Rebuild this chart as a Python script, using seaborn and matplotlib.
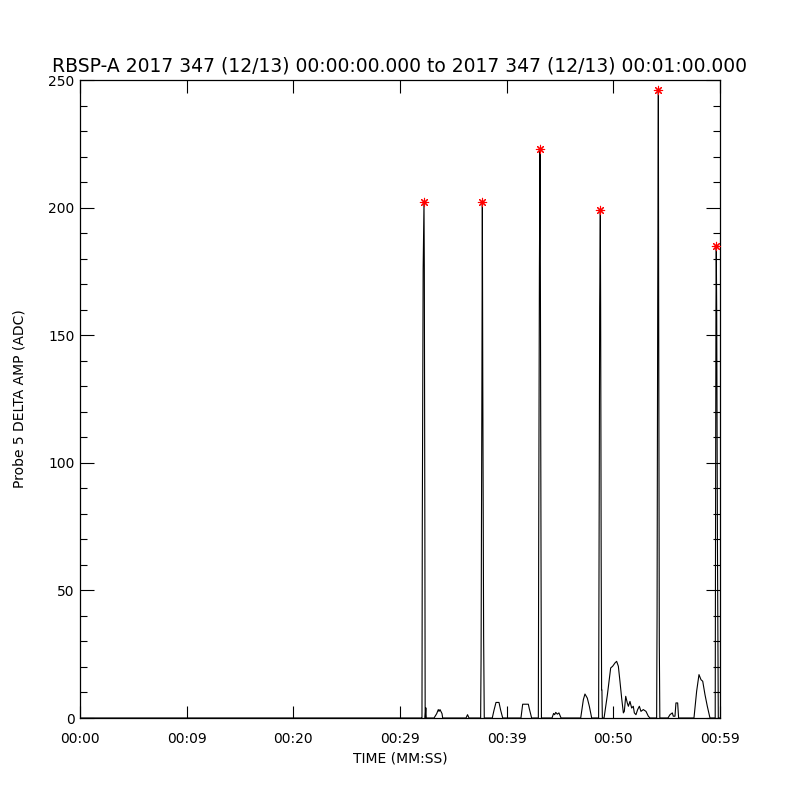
import matplotlib
matplotlib.use("Agg")
import matplotlib.pyplot as plt
from matplotlib.ticker import MultipleLocator
import seaborn as sns
import numpy as np
import pandas as pd

sns.set_style("white")
plt.rcParams['font.family'] = ['DejaVu Sans']
plt.rcParams.update({'text.color': 'black', 'axes.labelcolor': 'black',
                     'xtick.color': 'black', 'ytick.color': 'black'})

# ---- data (seconds after 00:00:00, ADC counts) ----
t_base = [0.0, 32.0]
v_base = [0, 0]

t_spike1 = [32.06, 32.09, 32.17, 32.25, 32.28, 32.33, 32.36, 32.42, 32.46]
v_spike1 = [0, 75, 176, 202, 176, 75, 0, 4, 0]

t_bump_a = [33.19, 33.44, 33.59, 33.66, 33.75, 33.94, 34.0, 36.19, 36.33, 36.47]
v_bump_a = [0, 1.7, 3.3, 2.6, 3.3, 1.7, 0, 0, 1.3, 0]

t_spike2 = [37.56, 37.60, 37.68, 37.72, 37.76, 37.84, 37.90]
v_spike2 = [0, 23, 133, 202, 133, 32, 0]

t_bump_b = [38.65, 38.81, 39.0, 39.28, 39.44, 39.63,
            41.34, 41.5, 42.03, 42.12, 42.34]
v_bump_b = [0, 3, 6.1, 6.1, 3, 0,
            0, 5.4, 5.4, 3.7, 0]

t_spike3 = [42.97, 43.0, 43.07, 43.125, 43.16, 43.22, 43.26]
v_spike3 = [0, 64, 176, 223, 176, 64, 0]

t_bump_d = [44.25, 44.4, 44.5, 44.6, 44.75, 44.9, 45.05, 45.1,
            46.94, 47.19, 47.34, 47.56, 47.75, 47.97]
v_bump_d = [0, 1.8, 1.3, 2.2, 1.5, 2.0, 0.5, 0,
            0, 7.2, 9.4, 7.8, 4.6, 0]

t_spike4 = [48.62, 48.66, 48.72, 48.78, 48.81, 48.86, 48.90, 48.93, 48.97]
v_spike4 = [0, 62, 161, 199, 161, 62, 11, 11, 0]

t_bump_f = [49.13, 49.44, 49.75, 49.94, 50.16, 50.31, 50.47, 50.62, 50.78,
            50.94, 51.03, 51.16, 51.31, 51.41, 51.56, 51.72, 51.87, 51.97,
            52.12, 52.28, 52.44, 52.59, 52.81, 53.06, 53.28, 53.44]
v_bump_f = [0, 9, 19.6, 20.3, 21.6, 22.2, 20.3, 14.4, 7.8,
            2, 2.6, 8.5, 5.9, 4.6, 6.5, 3.9, 4.6, 2,
            1.3, 3.3, 4.6, 2.6, 3.3, 2.6, 0.7, 0]

t_spike5 = [54.06, 54.10, 54.16, 54.22, 54.25, 54.31, 54.36]
v_spike5 = [0, 40, 163, 246, 163, 29, 0]

t_bump_g = [55.12, 55.31, 55.53, 55.62, 55.78, 55.87, 56.03, 56.12,
            57.56, 57.81, 58.03, 58.22, 58.38, 58.59, 58.81, 59.06]
v_bump_g = [0, 1.3, 2, 0.7, 0.7, 5.9, 5.9, 0,
            0, 10.5, 17, 15, 14.4, 9.2, 4.6, 0]

t_spike6 = [59.55, 59.58, 59.62, 59.65, 59.69, 59.76, 59.84, 60.0]
v_spike6 = [0, 69, 160, 185, 160, 69, 0, 0]

# peaks marked with red asterisks
t_peaks = [32.25, 37.72, 43.125, 48.78, 54.22, 59.65]
v_peaks = [202, 202, 223, 199, 246, 185]

x_ticks = [0, 10, 20, 30, 40, 50, 60]
x_tick_labels = ['00:00', '00:09', '00:20', '00:29', '00:39', '00:50', '00:59']
y_ticks = [0, 50, 100, 150, 200, 250]

title = "RBSP-A 2017 347 (12/13) 00:00:00.000 to 2017 347 (12/13) 00:01:00.000"

trace = pd.DataFrame({
    't': t_base + t_spike1 + t_bump_a + t_spike2 + t_bump_b + t_spike3 +
         t_bump_d + t_spike4 + t_bump_f + t_spike5 + t_bump_g + t_spike6,
    'amp': v_base + v_spike1 + v_bump_a + v_spike2 + v_bump_b + v_spike3 +
           v_bump_d + v_spike4 + v_bump_f + v_spike5 + v_bump_g + v_spike6,
})
peaks = pd.DataFrame({'t': t_peaks, 'amp': v_peaks})

fig = plt.figure(figsize=(8, 8), dpi=100)
ax = fig.add_axes([0.1, 0.1025, 0.8, 0.7975])

sns.lineplot(data=trace, x='t', y='amp', sort=False, estimator=None,
             color='black', linewidth=0.8, ax=ax)
sns.scatterplot(data=peaks, x='t', y='amp', marker=(8, 2, 0), color='red',
                s=36, linewidth=0.8, ax=ax, zorder=3)

ax.set_xlim(0, 60)
ax.set_ylim(0, 250)
ax.set_xticks(x_ticks)
ax.set_xticklabels(x_tick_labels)
ax.set_yticks(y_ticks)
ax.yaxis.set_minor_locator(MultipleLocator(10))

ax.tick_params(axis='both', which='both', direction='in',
               top=True, bottom=True, left=True, right=True,
               colors='black', labelsize=10)
ax.tick_params(axis='x', which='major', length=9, width=0.8, pad=10)
ax.tick_params(axis='y', which='major', length=10, width=0.8, pad=4)
ax.tick_params(axis='y', which='minor', length=5, width=0.8)

for s in ax.spines.values():
    s.set_color('black')
    s.set_linewidth(0.9)

ax.set_title(title, fontsize=13.5, pad=6, color='black')
ax.set_xlabel('TIME (MM:SS)', fontsize=10)
ax.set_ylabel('Probe 5 DELTA AMP (ADC)', fontsize=10)
ax.xaxis.set_label_coords(0.5, -0.053)
ax.yaxis.set_label_coords(-0.083, 0.5)

fig.savefig('out.png', dpi=100, facecolor='white')
